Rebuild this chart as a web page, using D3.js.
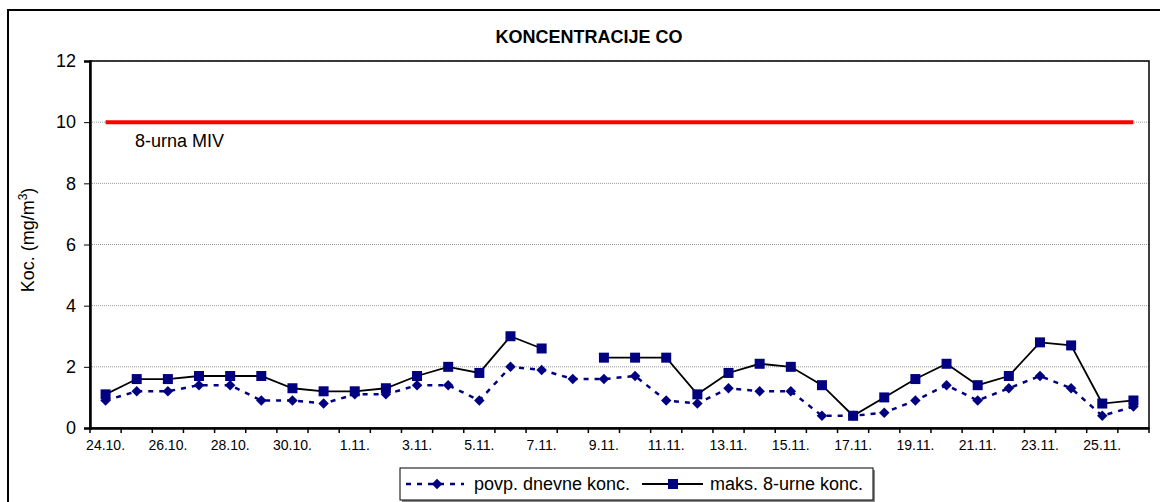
<!DOCTYPE html>
<html>
<head>
<meta charset="utf-8">
<script src="https://cdn.jsdelivr.net/npm/d3@7"></script>
<style>
body{margin:0;background:#fff;}
text{font-family:"Liberation Sans",Arial,sans-serif;}
</style>
</head>
<body>
<div class="chart"></div>
<script>
const days=['24.10.','25.10.','26.10.','27.10.','28.10.','29.10.','30.10.','31.10.',
	'1.11.','2.11.','3.11.','4.11.','5.11.','6.11.','7.11.','8.11.','9.11.','10.11.',
	'11.11.','12.11.','13.11.','14.11.','15.11.','16.11.','17.11.','18.11.','19.11.',
	'20.11.','21.11.','22.11.','23.11.','24.11.','25.11.','26.11.'];
const meanDaily=[0.9,1.2,1.2,1.4,1.4,0.9,0.9,0.8,1.1,1.1,1.4,1.4,0.9,2.0,1.9,1.6,1.6,1.7,
	0.9,0.8,1.3,1.2,1.2,0.4,0.4,0.5,0.9,1.4,0.9,1.3,1.7,1.3,0.4,0.7];
const max8h=[1.1,1.6,1.6,1.7,1.7,1.7,1.3,1.2,1.2,1.3,1.7,2.0,1.8,3.0,2.6,null,2.3,2.3,
	2.3,1.1,1.8,2.1,2.0,1.4,0.4,1.0,1.6,2.1,1.4,1.7,2.8,2.7,0.8,0.9];
const limitValue=10;
const yTicks=[0,2,4,6,8,10,12];

const width=1160, height=502;
const plotL=90, plotR=1149, plotT=61, plotB=428;

const svg=d3.select('.chart').append('svg')
	.attr('width',width).attr('height',height);

// outer frame
svg.append('rect').attr('x',8).attr('y',10).attr('width',1160).attr('height',510)
	.attr('fill','none').attr('stroke','#000').attr('stroke-width',2);

const x=d3.scaleBand().domain(days).range([plotL,plotR]);
const y=d3.scaleLinear().domain([0,12]).range([plotB,plotT]);
const cx=d=>x(d)+x.bandwidth()/2;

// gridlines
svg.selectAll('.grid').data(yTicks.filter(t=>t>0)).enter().append('line')
	.attr('x1',plotL).attr('x2',plotR)
	.attr('y1',d=>y(d)).attr('y2',d=>y(d))
	.attr('stroke','#999').attr('stroke-width',1).attr('stroke-dasharray','1,1');

// plot border
svg.append('rect').attr('x',plotL).attr('y',plotT).attr('width',plotR-plotL).attr('height',plotB-plotT)
	.attr('fill','none').attr('stroke','#000').attr('stroke-width',1.5);

// y axis
const yAxis=svg.append('g').attr('transform','translate('+plotL+',0)')
	.call(d3.axisLeft(y).tickValues(yTicks).tickSize(6).tickPadding(8));
yAxis.select('.domain').attr('stroke-width',2.5);
yAxis.selectAll('text').attr('font-size',18).attr('fill','#000')
	.attr('font-family','"Liberation Sans",Arial,sans-serif');

// x axis
const xAxis=svg.append('g').attr('transform','translate(0,'+plotB+')')
	.call(d3.axisBottom(x).tickSize(0).tickFormat(''));
xAxis.select('.domain').attr('stroke-width',2.5);
svg.selectAll('.xtick').data(days.concat(['end'])).enter().append('line')
	.attr('x1',(d,i)=>i<days.length?x(d):plotR)
	.attr('x2',(d,i)=>i<days.length?x(d):plotR)
	.attr('y1',plotB).attr('y2',plotB+5)
	.attr('stroke','#000').attr('stroke-width',1.5);
svg.selectAll('.xlab').data(days.filter((d,i)=>i%2==0)).enter().append('text')
	.attr('x',d=>cx(d)).attr('y',plotB+22)
	.attr('text-anchor','middle').attr('font-size',14)
	.text(d=>d);

// limit line
svg.append('line')
	.attr('x1',cx(days[0])).attr('x2',cx(days[days.length-1]))
	.attr('y1',y(limitValue)).attr('y2',y(limitValue))
	.attr('stroke','#ff0000').attr('stroke-width',4);
svg.append('text').attr('x',135).attr('y',147).attr('font-size',18).text('8-urna MIV');

// mean daily series
const meanLine=d3.line().x((d,i)=>cx(days[i])).y(d=>y(d));
svg.append('path').datum(meanDaily).attr('d',meanLine)
	.attr('fill','none').attr('stroke','#000080').attr('stroke-width',2.5)
	.attr('stroke-dasharray','5,6');
svg.selectAll('.diamond').data(meanDaily).enter().append('path')
	.attr('d',d3.symbol().type(d3.symbolDiamond2).size(70))
	.attr('transform',(d,i)=>'translate('+cx(days[i])+','+y(d)+')')
	.attr('fill','#000080');

// max 8h series
const maxLine=d3.line().defined(d=>d!=null).x((d,i)=>cx(days[i])).y(d=>y(d));
svg.append('path').datum(max8h).attr('d',maxLine)
	.attr('fill','none').attr('stroke','#000').attr('stroke-width',1.8);
svg.selectAll('.square').data(max8h.map((v,i)=>({v,i})).filter(d=>d.v!=null)).enter().append('rect')
	.attr('x',d=>cx(days[d.i])-5).attr('y',d=>y(d.v)-5)
	.attr('width',10).attr('height',10)
	.attr('fill','#000080');

// title
svg.append('text').attr('x',589).attr('y',43).attr('text-anchor','middle')
	.attr('font-size',18).attr('font-weight','bold').text('KONCENTRACIJE CO');

// y label
const yl=svg.append('text').attr('transform','translate(34,240) rotate(-90)')
	.attr('text-anchor','middle').attr('font-size',18);
yl.append('tspan').text('Koc. (mg/m');
yl.append('tspan').attr('font-size',12).attr('dy',-7).text('3');
yl.append('tspan').attr('dy',7).text(')');

// legend
const lg=svg.append('g');
lg.append('rect').attr('x',402).attr('y',470).attr('width',473).attr('height',32).attr('fill','#888');
lg.append('rect').attr('x',400).attr('y',468).attr('width',473).attr('height',32)
	.attr('fill','#fff').attr('stroke','#000').attr('stroke-width',1);
lg.append('line').attr('x1',406).attr('x2',464).attr('y1',484).attr('y2',484)
	.attr('stroke','#000080').attr('stroke-width',2.5).attr('stroke-dasharray','5,6');
lg.append('path').attr('d',d3.symbol().type(d3.symbolDiamond2).size(70))
	.attr('transform','translate(437,484)').attr('fill','#000080');
lg.append('text').attr('x',474).attr('y',490).attr('font-size',18).text('povp. dnevne konc.');
lg.append('line').attr('x1',642).attr('x2',703).attr('y1',484).attr('y2',484)
	.attr('stroke','#000').attr('stroke-width',1.8);
lg.append('rect').attr('x',668).attr('y',479).attr('width',10).attr('height',10).attr('fill','#000080');
lg.append('text').attr('x',710).attr('y',490).attr('font-size',18).text('maks. 8-urne konc.');
</script>
</body>
</html>
